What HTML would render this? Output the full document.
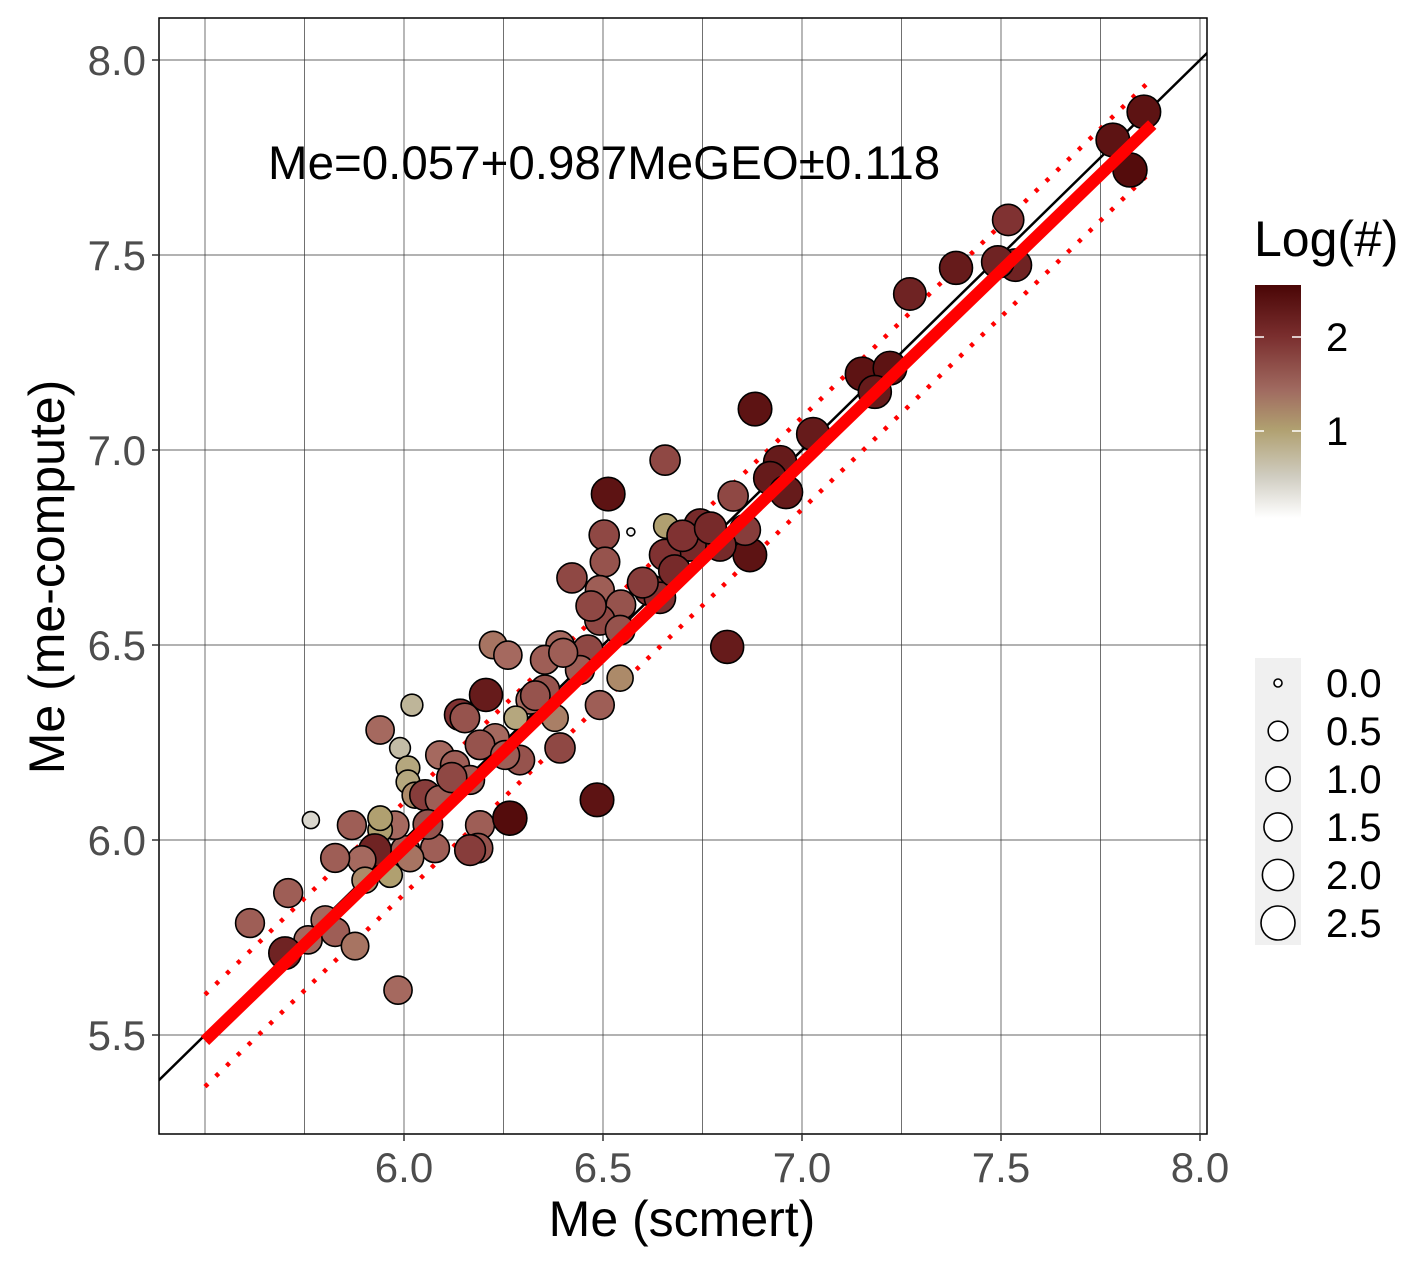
<!DOCTYPE html>
<html><head><meta charset="utf-8"><style>
html,body{margin:0;padding:0;background:#fff;}
svg{display:block;font-family:"Liberation Sans",sans-serif;}
</style></head><body>
<svg id="chart" width="1416" height="1264" viewBox="0 0 1416 1264" xmlns="http://www.w3.org/2000/svg">
<defs>
<linearGradient id="cbar" x1="0" y1="0" x2="0" y2="1">
<stop offset="0" stop-color="#4a0606"/>
<stop offset="0.22" stop-color="#7a2e2e"/>
<stop offset="0.45" stop-color="#a06a60"/>
<stop offset="0.62" stop-color="#b0a070"/>
<stop offset="0.82" stop-color="#cfccc0"/>
<stop offset="1" stop-color="#ffffff"/>
</linearGradient>
<clipPath id="pclip"><rect x="159" y="18" width="1048" height="1116"/></clipPath>
</defs>
<g id="grid"></g>
<g id="lines" clip-path="url(#pclip)"></g>
<g id="points"></g>
<rect x="159" y="18" width="1048" height="1116" fill="none" stroke="#000" stroke-width="1.5"/>
<g id="axes"></g>
<text x="268" y="179" font-size="47.5" fill="#000">Me=0.057+0.987MeGEO±0.118</text>
<text x="682" y="1236" font-size="50" text-anchor="middle" fill="#000">Me (scmert)</text>
<text transform="translate(64,577) rotate(-90)" font-size="50" text-anchor="middle" fill="#000">Me (me-compute)</text>
<g id="legend">
<text x="1254" y="256" font-size="50" fill="#000">Log(#)</text>
<rect x="1255" y="285" width="46" height="233" fill="url(#cbar)"/>
</g>
</svg>
<script>
const xTicks=[6.0,6.5,7.0,7.5,8.0];
const xTickLabels=["6.0","6.5","7.0","7.5","8.0"];
const yTicks=[5.5,6.0,6.5,7.0,7.5,8.0];
const yTickLabels=["5.5","6.0","6.5","7.0","7.5","8.0"];
const xMinor=[5.5,5.75,6.25,6.75,7.25,7.75];
const xs=[7.859,7.781,7.824,7.518,7.536,7.492,7.387,7.271,7.151,7.221,7.183,6.882,7.028,6.945,6.920,6.960,6.656,6.513,6.503,6.570,6.658,6.827,6.869,6.857,6.744,6.794,6.719,6.656,6.618,6.643,6.505,6.422,6.492,6.545,6.812,6.492,6.543,6.462,6.392,6.354,6.543,6.442,6.492,6.354,6.317,6.224,6.261,6.206,6.020,6.141,6.153,6.281,6.379,5.940,5.990,6.392,6.229,6.191,6.291,6.254,6.090,6.128,6.166,6.010,6.010,6.028,6.053,6.090,6.191,6.266,6.485,6.186,6.166,6.078,6.003,6.015,5.977,5.940,5.940,5.766,5.869,5.927,5.894,5.965,5.827,5.902,5.709,5.613,5.802,5.827,5.759,5.877,5.701,5.985,6.680,6.700,6.770,6.600,6.470,6.330,6.400,6.120,6.060];
const ys=[7.867,7.795,7.718,7.590,7.474,7.482,7.467,7.400,7.195,7.210,7.149,7.105,7.041,6.969,6.928,6.892,6.974,6.887,6.782,6.790,6.805,6.882,6.731,6.795,6.808,6.756,6.756,6.731,6.641,6.621,6.713,6.672,6.641,6.603,6.495,6.564,6.538,6.487,6.500,6.462,6.415,6.436,6.346,6.385,6.359,6.500,6.474,6.372,6.346,6.321,6.313,6.313,6.313,6.282,6.236,6.236,6.262,6.244,6.205,6.218,6.218,6.192,6.154,6.185,6.149,6.115,6.115,6.103,6.038,6.056,6.103,5.979,5.974,5.979,5.974,5.954,6.038,6.026,6.056,6.051,6.038,5.974,5.949,5.910,5.954,5.897,5.864,5.787,5.795,5.764,5.744,5.728,5.710,5.615,6.690,6.780,6.800,6.660,6.600,6.370,6.480,6.160,6.040];
const logs=[2.4,2.4,2.5,2.0,2.2,2.2,2.3,2.2,2.4,2.4,2.3,2.4,2.3,2.3,2.3,2.3,1.8,2.4,1.8,0.0,1.0,1.8,2.4,1.9,2.1,2.1,2.1,2.0,2.0,2.0,1.7,1.8,1.6,1.7,2.3,1.8,1.7,1.8,1.5,1.6,1.2,1.6,1.6,1.7,1.5,1.4,1.5,2.3,0.7,2.0,1.7,0.9,1.3,1.5,0.6,1.8,1.5,1.7,1.7,1.6,1.5,1.6,1.6,0.9,0.9,1.2,1.9,1.6,1.6,2.5,2.4,1.7,1.9,1.6,1.6,1.4,1.5,1.0,1.0,0.3,1.6,2.2,1.5,1.0,1.6,1.2,1.6,1.6,1.5,1.6,1.5,1.4,2.2,1.5,2.1,2.0,2.1,1.9,1.8,1.7,1.6,1.8,1.7];
const sizeLegendVals=[0.0,0.5,1.0,1.5,2.0,2.5];
const sizeLegendLabels=["0.0","0.5","1.0","1.5","2.0","2.5"];
const colorLegendVals=[1,2];
const fitIntercept=0.057, fitSlope=0.987, fitBand=0.118;

const NS="http://www.w3.org/2000/svg";
const X=v=>404+(v-6)*398;
const Y=v=>840-(v-6)*390;
const R=s=>4+Math.sqrt(s/2.5)*13;
function mk(tag,attrs,parent,text){const e=document.createElementNS(NS,tag);for(const k in attrs)e.setAttribute(k,attrs[k]);if(text!==undefined)e.textContent=text;parent.appendChild(e);return e;}
function lerp(a,b,t){return a.map((v,i)=>Math.round(v+(b[i]-v)*t));}
const stops=[[0,[245,245,245]],[0.5,[200,195,180]],[1.0,[176,160,112]],[1.5,[165,105,95]],[2.0,[128,50,50]],[2.55,[80,8,8]]];
function col(l){for(let i=0;i<stops.length-1;i++){if(l<=stops[i+1][0]){const t=(l-stops[i][0])/(stops[i+1][0]-stops[i][0]);const c=lerp(stops[i][1],stops[i+1][1],Math.max(0,t));return `rgb(${c})`;}}return `rgb(${stops[stops.length-1][1]})`;}

const grid=document.getElementById('grid');
xMinor.concat(xTicks).forEach(v=>{const l=mk('line',{x1:X(v),x2:X(v),y1:18,y2:1134,stroke:'#333','stroke-width':0.7},grid);

});
yTicks.forEach(v=>{const l=mk('line',{x1:159,x2:1207,y1:Y(v),y2:Y(v),stroke:'#333','stroke-width':0.7},grid);

});

const lines=document.getElementById('lines');
const id=mk('line',{x1:X(5.3),y1:Y(5.3),x2:X(8.1),y2:Y(8.1),stroke:'#000','stroke-width':2.5},lines);


const x0=5.5,x1=7.88;
const f=x=>fitIntercept+fitSlope*x;
[-fitBand,fitBand].forEach(b=>{const l=mk('line',{x1:X(x0),y1:Y(f(x0)+b),x2:X(x1),y2:Y(f(x1)+b),stroke:'#f00','stroke-width':4.5,'stroke-dasharray':'4 11'},lines);

});

const pts=document.getElementById('points');
xs.forEach((_,i)=>{const c=mk('circle',{cx:X(xs[i]),cy:Y(ys[i]),r:R(logs[i]),fill:col(logs[i]),stroke:'#000','stroke-width':1.6},pts);

});
const fit=mk('line',{x1:X(x0),y1:Y(f(x0)),x2:X(x1),y2:Y(f(x1)),stroke:'#f00','stroke-width':12},pts);



const axes=document.getElementById('axes');
xTicks.forEach((v,i)=>{mk('line',{x1:X(v),x2:X(v),y1:1134,y2:1141,stroke:'#333','stroke-width':1.5},axes);
const t=mk('text',{x:X(v),y:1182,'font-size':42,'text-anchor':'middle',fill:'#4d4d4d'},axes,xTickLabels[i]);

});
yTicks.forEach((v,i)=>{mk('line',{x1:152,x2:159,y1:Y(v),y2:Y(v),stroke:'#333','stroke-width':1.5},axes);
const t=mk('text',{x:146,y:Y(v)+15,'font-size':42,'text-anchor':'end',fill:'#4d4d4d'},axes,yTickLabels[i]);

});

const leg=document.getElementById('legend');
const cY=v=>337+(2-v)*94;
colorLegendVals.forEach(v=>{mk('line',{x1:1255,x2:1264,y1:cY(v),y2:cY(v),stroke:'#fff','stroke-width':1.5},leg);mk('line',{x1:1292,x2:1301,y1:cY(v),y2:cY(v),stroke:'#fff','stroke-width':1.5},leg);
const t=mk('text',{x:1326,y:cY(v)+14,'font-size':40,fill:'#000'},leg,String(v));

});
const bg=mk('rect',{x:1255,y:658,width:46,height:287,fill:'#f0f0f0'},leg);


sizeLegendVals.forEach((v,i)=>{const y=683+i*48;
const c=mk('circle',{cx:1278,cy:y,r:R(v),fill:'#fff',stroke:'#000','stroke-width':1.6},leg);


const t=mk('text',{x:1326,y:y+14,'font-size':40,fill:'#000'},leg,sizeLegendLabels[i]);

});
</script>
</body></html>
